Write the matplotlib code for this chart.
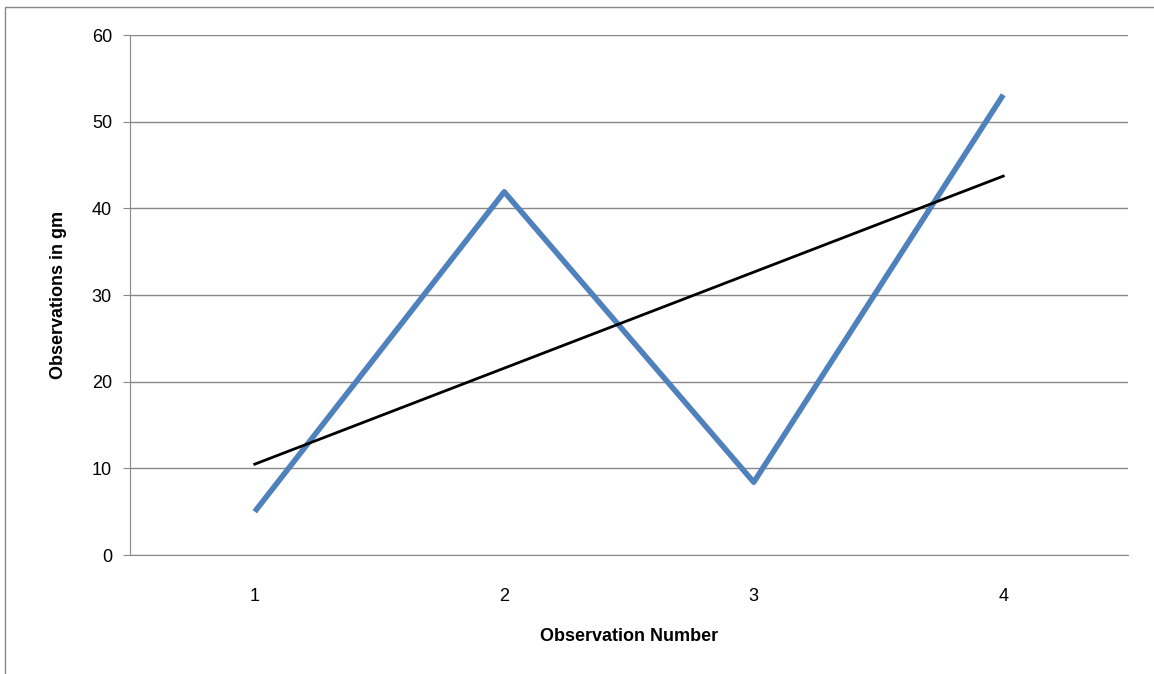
import matplotlib.pyplot as plt
import numpy as np
from matplotlib.patches import Rectangle

obs_number = [1, 2, 3, 4]
obs_values = [5.0, 41.9, 8.4, 53.1]
y_ticks = [0, 10, 20, 30, 40, 50, 60]

plt.rcParams['font.family'] = ['Liberation Sans', 'DejaVu Sans']

fig = plt.figure(figsize=(11.54, 6.74), dpi=100)
ax = fig.add_axes([130/1154, 1 - 555/674, 998/1154, 520/674])

ax.plot(obs_number, obs_values, color='#4f81bd', lw=4, solid_capstyle='butt')
slope, icpt = np.polyfit(obs_number, obs_values, 1)
xs = np.array([obs_number[0], obs_number[-1]])
ax.plot(xs, slope * xs + icpt, color='black', lw=2)

ax.set_xlim(0.5, 4.5)
ax.set_ylim(0, 60)
ax.set_yticks(y_ticks)
ax.set_xticks(obs_number)
ax.yaxis.grid(True, color='#888888', lw=1)
ax.set_axisbelow(True)
for s in ['top', 'right']:
    ax.spines[s].set_visible(False)
ax.spines['left'].set_color('#888888')
ax.spines['bottom'].set_color('#888888')
ax.tick_params(axis='y', length=5, color='#888888', labelsize=13, pad=8)
ax.tick_params(axis='x', length=0, labelsize=13, pad=24)
ax.set_xlabel('Observation Number', fontsize=13, fontweight='bold', labelpad=16)
ax.set_ylabel('Observations in gm', fontsize=13, fontweight='bold', labelpad=18)

fig.patches.append(Rectangle((5/1154, -0.01), 1.0, 1.0, transform=fig.transFigure,
                             fill=False, edgecolor='#888888', lw=1))

fig.savefig('out.png', dpi=100)
